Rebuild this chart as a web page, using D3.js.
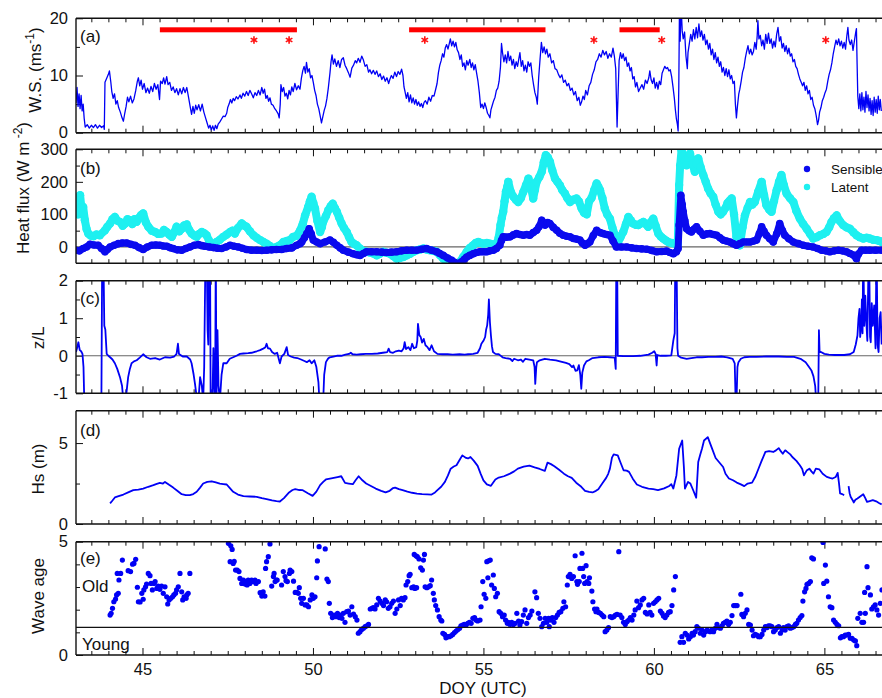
<!DOCTYPE html>
<html><head><meta charset="utf-8">
<script src="https://cdn.jsdelivr.net/npm/d3@7"></script>
<style>
body{margin:0;background:#fff}
svg{display:block}
text{font-family:"Liberation Sans",Arial,Helvetica,sans-serif}
</style></head>
<body><svg id="c" width="882" height="698"></svg>
<script>
// ---------------- DATA ----------------
const xTickLabels=[45,50,55,60,65];
const redBars=[[45.51,49.53],[52.82,56.82],[58.99,60.17]];
const redStars=[48.27,49.30,53.28,58.24,60.23,65.04];

const windSpeed=[[43.05,5.2],[43.08,7.9],[43.11,4.6],[43.14,6.8],[43.17,4.2],[43.2,6.5],[43.23,3.8],[43.26,5.0],[43.29,2.5],[43.32,1.0],[43.38,1.4],[43.44,0.8],[43.5,1.3],[43.56,0.9],[43.62,1.4],[43.68,0.8],[43.74,1.3],[43.8,0.9],[43.86,1.2],[43.88,0.6],[43.9,8.8],[43.95,9.5],[44.0,10.2],[44.03,10.8],[44.07,8.9],[44.1,7.2],[44.14,6.0],[44.18,6.8],[44.22,5.0],[44.26,5.6],[44.3,4.4],[44.35,3.6],[44.4,2.6],[44.44,2.0],[44.48,3.4],[44.52,4.6],[44.56,6.2],[44.6,5.4],[44.65,6.4],[44.7,5.2],[44.75,5.9],[44.8,7.3],[44.85,9.0],[44.88,9.6],[44.92,8.2],[44.96,9.2],[45.0,7.6],[45.05,8.6],[45.1,7.0],[45.15,7.8],[45.2,6.9],[45.25,8.1],[45.3,7.2],[45.35,8.6],[45.4,7.6],[45.45,8.4],[45.5,5.8],[45.53,9.0],[45.58,8.6],[45.62,9.6],[45.66,8.5],[45.71,9.8],[45.75,8.4],[45.8,8.8],[45.85,7.4],[45.9,8.0],[45.95,7.0],[46.0,7.7],[46.05,6.6],[46.1,7.7],[46.15,6.8],[46.2,7.9],[46.25,7.0],[46.3,7.9],[46.35,6.2],[46.4,4.5],[46.44,3.2],[46.48,4.6],[46.52,3.4],[46.56,4.8],[46.6,4.0],[46.65,4.9],[46.7,3.8],[46.75,5.0],[46.8,3.6],[46.85,2.6],[46.9,1.6],[46.94,0.8],[46.98,1.3],[47.02,0.5],[47.06,1.2],[47.1,0.4],[47.14,1.3],[47.18,0.7],[47.22,1.5],[47.27,1.9],[47.32,2.4],[47.37,2.9],[47.42,2.8],[47.47,3.4],[47.5,4.4],[47.54,5.0],[47.58,5.8],[47.62,5.2],[47.66,6.0],[47.7,5.6],[47.75,6.3],[47.8,5.9],[47.86,6.6],[47.9,6.0],[47.95,6.9],[48.0,6.4],[48.05,7.2],[48.1,6.5],[48.15,7.4],[48.2,6.8],[48.25,6.1],[48.3,7.0],[48.35,6.5],[48.4,7.4],[48.45,6.6],[48.5,7.9],[48.54,6.9],[48.58,7.6],[48.62,6.0],[48.66,6.5],[48.7,5.5],[48.74,6.1],[48.78,5.0],[48.83,4.8],[48.88,4.2],[48.93,3.8],[48.98,3.3],[49.01,2.6],[49.04,5.0],[49.06,8.4],[49.1,7.2],[49.14,7.9],[49.18,6.4],[49.22,6.9],[49.26,5.9],[49.3,7.4],[49.34,6.6],[49.38,8.0],[49.42,7.2],[49.47,8.6],[49.52,7.5],[49.57,8.2],[49.62,7.6],[49.66,9.5],[49.7,10.8],[49.74,11.6],[49.78,10.4],[49.81,12.3],[49.85,10.6],[49.89,11.2],[49.93,9.6],[49.97,10.0],[50.01,8.8],[50.05,7.4],[50.09,6.5],[50.13,5.0],[50.17,4.2],[50.21,3.0],[50.25,1.7],[50.29,2.8],[50.33,3.9],[50.37,4.7],[50.41,6.0],[50.45,7.8],[50.5,10.5],[50.53,12.4],[50.56,13.6],[50.6,12.0],[50.64,12.9],[50.69,11.6],[50.74,12.6],[50.79,11.4],[50.84,12.8],[50.89,13.1],[50.94,11.8],[50.99,11.2],[51.04,10.5],[51.09,9.7],[51.14,11.3],[51.19,11.8],[51.24,12.6],[51.28,12.2],[51.33,13.0],[51.38,12.3],[51.43,13.4],[51.48,12.7],[51.53,11.6],[51.58,11.9],[51.63,10.6],[51.67,11.0],[51.72,10.3],[51.77,10.9],[51.82,10.2],[51.87,10.8],[51.92,9.8],[51.97,10.3],[52.02,9.3],[52.07,9.9],[52.12,9.0],[52.17,9.6],[52.22,8.6],[52.26,9.4],[52.3,10.0],[52.35,9.5],[52.4,10.6],[52.45,9.8],[52.5,10.7],[52.55,10.2],[52.6,11.1],[52.64,10.0],[52.67,8.0],[52.7,7.2],[52.74,6.0],[52.78,7.0],[52.82,5.4],[52.86,6.6],[52.9,5.2],[52.94,6.1],[52.98,5.0],[53.02,5.8],[53.06,4.8],[53.1,5.4],[53.14,4.6],[53.18,5.1],[53.22,4.4],[53.26,5.3],[53.3,5.6],[53.35,5.0],[53.4,6.2],[53.45,5.5],[53.5,6.5],[53.55,6.4],[53.6,7.6],[53.64,8.6],[53.68,10.5],[53.72,11.8],[53.76,12.6],[53.8,13.8],[53.84,13.2],[53.88,14.8],[53.92,15.4],[53.96,14.6],[54.0,15.6],[54.03,16.4],[54.07,15.2],[54.11,16.0],[54.15,15.0],[54.19,15.8],[54.23,14.5],[54.27,14.0],[54.31,12.8],[54.35,13.6],[54.39,11.6],[54.43,12.2],[54.47,11.0],[54.51,12.6],[54.55,11.8],[54.6,12.8],[54.64,11.4],[54.68,12.2],[54.72,11.0],[54.76,11.9],[54.8,10.4],[54.84,9.0],[54.88,7.0],[54.92,4.4],[54.96,5.0],[55.0,4.2],[55.04,5.2],[55.08,4.4],[55.12,3.4],[55.16,3.0],[55.19,2.6],[55.22,4.0],[55.26,4.8],[55.3,5.6],[55.34,6.2],[55.38,7.4],[55.42,7.8],[55.46,9.0],[55.5,11.5],[55.53,15.6],[55.56,14.0],[55.6,12.4],[55.64,13.6],[55.68,12.2],[55.72,14.2],[55.76,12.6],[55.8,13.4],[55.84,11.8],[55.88,12.8],[55.92,11.2],[55.96,12.4],[56.0,11.6],[56.04,13.0],[56.07,14.0],[56.11,11.6],[56.15,12.6],[56.19,10.8],[56.23,11.8],[56.27,10.6],[56.31,12.4],[56.35,11.6],[56.39,12.2],[56.43,10.0],[56.47,8.4],[56.51,7.0],[56.55,6.2],[56.58,5.0],[56.62,9.6],[56.66,12.8],[56.7,15.8],[56.74,14.0],[56.78,15.0],[56.82,13.8],[56.86,14.6],[56.9,13.2],[56.95,13.8],[57.0,12.2],[57.05,12.6],[57.1,11.2],[57.15,11.0],[57.2,10.2],[57.25,9.6],[57.3,10.1],[57.35,8.8],[57.4,9.2],[57.45,8.2],[57.5,8.6],[57.55,7.4],[57.6,7.8],[57.65,6.6],[57.7,7.2],[57.75,5.6],[57.8,6.2],[57.84,4.8],[57.88,5.4],[57.92,6.4],[57.96,5.8],[58.0,7.4],[58.05,6.6],[58.1,8.2],[58.15,8.8],[58.2,10.2],[58.25,11.0],[58.3,12.4],[58.35,12.8],[58.4,13.8],[58.45,13.2],[58.5,14.4],[58.55,13.6],[58.6,14.2],[58.65,13.0],[58.7,13.8],[58.75,13.2],[58.8,14.8],[58.84,13.4],[58.88,11.2],[58.9,6.0],[58.92,1.0],[58.95,7.0],[58.98,12.6],[59.02,14.0],[59.06,13.0],[59.1,13.8],[59.14,12.6],[59.18,13.2],[59.22,11.6],[59.26,12.2],[59.3,10.8],[59.34,11.4],[59.38,9.4],[59.42,9.8],[59.46,8.0],[59.5,8.8],[59.55,7.2],[59.6,7.8],[59.65,8.4],[59.7,7.6],[59.75,9.2],[59.8,8.6],[59.85,9.6],[59.88,10.8],[59.92,9.2],[59.96,8.6],[60.0,9.6],[60.04,7.8],[60.08,8.8],[60.12,7.6],[60.16,9.0],[60.2,8.4],[60.24,10.4],[60.28,11.0],[60.32,11.6],[60.36,11.2],[60.4,11.4],[60.44,10.8],[60.48,11.0],[60.52,9.8],[60.56,8.0],[60.6,6.0],[60.63,4.0],[60.66,2.4],[60.69,1.4],[60.71,0.3],[60.73,8.0],[60.75,22],[60.77,16.0],[60.8,22],[60.83,17.8],[60.86,16.4],[60.9,17.6],[60.94,13.4],[60.98,11.2],[61.0,14.0],[61.04,15.6],[61.08,17.2],[61.12,16.0],[61.16,18.0],[61.2,16.4],[61.24,18.4],[61.28,16.6],[61.32,19.0],[61.36,16.8],[61.4,17.8],[61.44,16.2],[61.48,17.2],[61.52,15.4],[61.56,16.2],[61.6,14.6],[61.64,15.6],[61.68,13.6],[61.72,14.6],[61.76,12.8],[61.8,14.0],[61.84,12.2],[61.88,13.2],[61.92,11.6],[61.96,12.4],[62.0,10.6],[62.04,11.4],[62.08,10.0],[62.12,11.2],[62.16,9.8],[62.2,11.0],[62.24,9.4],[62.28,10.0],[62.32,8.6],[62.36,9.0],[62.39,5.0],[62.42,2.6],[62.45,4.6],[62.49,6.8],[62.52,7.6],[62.56,9.0],[62.6,10.6],[62.64,11.4],[62.68,13.0],[62.72,14.2],[62.76,15.2],[62.8,13.8],[62.84,14.6],[62.88,13.6],[62.92,14.2],[62.96,15.8],[63.0,14.6],[63.03,17.0],[63.05,19.6],[63.08,16.4],[63.12,17.0],[63.16,15.2],[63.2,16.2],[63.24,14.6],[63.28,17.2],[63.32,15.6],[63.36,17.4],[63.4,15.6],[63.44,16.4],[63.48,14.8],[63.52,16.0],[63.56,15.0],[63.6,17.2],[63.64,18.4],[63.68,16.0],[63.72,16.8],[63.76,14.8],[63.8,15.6],[63.84,14.2],[63.88,15.2],[63.92,13.8],[63.96,14.8],[64.0,13.4],[64.04,13.8],[64.08,12.4],[64.12,12.8],[64.16,11.6],[64.2,11.2],[64.24,10.2],[64.28,9.4],[64.32,8.8],[64.36,8.2],[64.4,8.8],[64.44,7.4],[64.48,8.2],[64.52,6.8],[64.56,7.4],[64.6,5.8],[64.64,6.2],[64.68,4.8],[64.72,4.2],[64.76,3.0],[64.8,1.4],[64.83,2.2],[64.86,3.6],[64.9,4.4],[64.94,5.6],[64.98,6.2],[65.02,7.0],[65.06,7.6],[65.1,9.0],[65.14,10.2],[65.18,11.0],[65.22,12.2],[65.26,13.8],[65.3,15.0],[65.34,16.2],[65.38,15.4],[65.42,16.4],[65.46,15.2],[65.5,16.0],[65.54,14.8],[65.58,15.8],[65.62,14.6],[65.66,17.0],[65.69,18.4],[65.72,16.2],[65.76,15.4],[65.8,16.2],[65.84,14.4],[65.88,16.0],[65.92,17.6],[65.94,18.2],[65.96,12.0],[65.98,6.4],[66.01,4.2],[66.04,6.8],[66.07,3.8],[66.1,7.0],[66.13,4.0],[66.16,6.2],[66.19,3.6],[66.22,7.2],[66.25,4.4],[66.28,6.6],[66.31,3.8],[66.34,6.0],[66.37,3.2],[66.4,5.6],[66.43,3.0],[66.46,6.2],[66.49,3.6],[66.52,5.8],[66.55,3.4],[66.58,6.4],[66.61,4.0],[66.64,5.8],[66.67,3.8]];

const latentFlux=[[43.04,123],[43.08,150],[43.12,100],[43.17,159],[43.21,120],[43.26,123],[43.31,82],[43.36,55],[43.41,41],[43.48,35],[43.56,33],[43.65,38],[43.75,36],[43.9,51],[43.97,62],[44.05,72],[44.12,85],[44.19,92],[44.27,80],[44.34,77],[44.42,65],[44.49,72],[44.56,85],[44.63,82],[44.7,70],[44.77,85],[44.83,77],[44.9,90],[44.96,98],[45.02,103],[45.1,75],[45.17,62],[45.27,50],[45.37,46],[45.46,40],[45.56,41],[45.63,52],[45.71,46],[45.78,38],[45.86,31],[45.93,45],[46.0,62],[46.08,48],[46.15,56],[46.22,66],[46.3,69],[46.37,52],[46.44,41],[46.52,35],[46.59,31],[46.66,40],[46.74,46],[46.81,42],[46.88,36],[46.95,20],[47.03,5],[47.1,8],[47.17,15],[47.27,22],[47.37,31],[47.47,38],[47.57,46],[47.64,50],[47.71,41],[47.8,58],[47.91,72],[47.98,66],[48.05,62],[48.15,48],[48.25,36],[48.35,28],[48.45,21],[48.55,15],[48.64,10],[48.74,3],[48.84,-5],[48.93,0],[49.03,5],[49.13,15],[49.23,18],[49.32,21],[49.42,31],[49.52,34],[49.62,50],[49.7,70],[49.77,97],[49.86,123],[49.91,140],[49.96,154],[50.01,135],[50.06,118],[50.13,80],[50.21,46],[50.26,60],[50.3,77],[50.38,95],[50.45,113],[50.52,125],[50.58,133],[50.64,120],[50.7,108],[50.77,90],[50.84,72],[50.91,58],[50.99,46],[51.06,30],[51.13,15],[51.2,10],[51.28,5],[51.38,-5],[51.48,-13],[51.57,-15],[51.67,-17],[51.77,-20],[51.87,-26],[51.97,-20],[52.06,-15],[52.16,-18],[52.26,-21],[52.35,-28],[52.45,-36],[52.55,-34],[52.65,-31],[52.75,-26],[52.85,-21],[52.95,-15],[53.04,-10],[53.14,-8],[53.24,-5],[53.33,-8],[53.43,-10],[53.53,-12],[53.63,-15],[53.72,-25],[53.82,-36],[53.92,-44],[54.02,-51],[54.1,-52],[54.17,-51],[54.24,-50],[54.31,-46],[54.41,-30],[54.51,-15],[54.6,-3],[54.7,5],[54.77,12],[54.85,15],[54.92,12],[55.0,10],[55.1,12],[55.19,10],[55.29,8],[55.39,10],[55.45,30],[55.5,67],[55.54,90],[55.58,108],[55.62,140],[55.66,170],[55.7,185],[55.73,200],[55.8,170],[55.88,154],[55.95,145],[56.02,138],[56.1,150],[56.17,169],[56.25,190],[56.32,210],[56.39,185],[56.46,149],[56.51,175],[56.56,200],[56.64,215],[56.71,231],[56.77,260],[56.83,282],[56.89,275],[56.95,262],[57.02,235],[57.1,210],[57.17,200],[57.24,190],[57.31,175],[57.39,164],[57.46,150],[57.54,138],[57.63,145],[57.73,149],[57.8,140],[57.88,118],[57.95,105],[58.03,100],[58.1,140],[58.17,150],[58.25,175],[58.32,195],[58.37,185],[58.42,174],[58.49,150],[58.56,118],[58.63,100],[58.71,87],[58.78,60],[58.86,36],[58.95,15],[59.02,30],[59.1,46],[59.18,70],[59.25,92],[59.32,82],[59.39,72],[59.47,68],[59.54,67],[59.61,72],[59.69,77],[59.76,70],[59.83,62],[59.9,75],[59.98,87],[60.05,65],[60.13,41],[60.2,32],[60.27,26],[60.35,20],[60.42,15],[60.52,12],[60.62,10],[60.7,8],[60.74,190],[60.77,250],[60.81,297],[60.86,280],[60.91,265],[60.96,251],[61.01,275],[61.06,287],[61.13,255],[61.2,231],[61.25,255],[61.3,272],[61.37,245],[61.45,220],[61.52,200],[61.59,179],[61.66,165],[61.74,154],[61.81,130],[61.89,108],[61.96,100],[62.03,108],[62.1,120],[62.16,135],[62.22,142],[62.28,149],[62.35,100],[62.42,31],[62.47,12],[62.52,5],[62.6,60],[62.67,97],[62.75,120],[62.82,138],[62.89,130],[62.96,138],[63.06,170],[63.16,200],[63.23,160],[63.3,128],[63.38,115],[63.45,108],[63.52,140],[63.6,174],[63.67,200],[63.74,221],[63.81,190],[63.89,164],[63.99,150],[64.09,138],[64.18,110],[64.28,87],[64.38,70],[64.48,56],[64.58,40],[64.67,26],[64.77,30],[64.87,36],[64.97,40],[65.06,46],[65.14,60],[65.21,77],[65.28,88],[65.36,97],[65.45,80],[65.55,67],[65.65,60],[65.75,56],[65.85,45],[65.94,36],[66.04,30],[66.14,26],[66.24,28],[66.33,26],[66.43,22],[66.53,21],[66.62,18],[66.69,15]];

const sensibleFlux=[[43.04,-10],[43.15,-12],[43.26,-5],[43.36,0],[43.46,8],[43.58,6],[43.7,5],[43.8,-5],[43.9,-15],[43.97,-8],[44.05,0],[44.17,5],[44.29,10],[44.41,12],[44.54,12],[44.66,8],[44.78,5],[44.9,-2],[45.02,-8],[45.14,0],[45.27,5],[45.39,6],[45.51,5],[45.61,3],[45.71,2],[45.8,-2],[45.9,-5],[46.02,-9],[46.15,-10],[46.27,-5],[46.39,0],[46.52,5],[46.64,7],[46.74,4],[46.83,2],[46.96,0],[47.08,-2],[47.2,-4],[47.32,-5],[47.45,0],[47.57,5],[47.69,2],[47.81,0],[47.93,-4],[48.05,-8],[48.2,-10],[48.35,-10],[48.5,-11],[48.64,-10],[48.79,-9],[48.93,-8],[49.08,-8],[49.23,-5],[49.38,-3],[49.52,5],[49.62,10],[49.67,15],[49.75,28],[49.82,41],[49.89,56],[49.95,40],[50.01,21],[50.11,15],[50.21,10],[50.35,15],[50.5,21],[50.6,14],[50.7,5],[50.8,-3],[50.89,-10],[51.04,-16],[51.18,-21],[51.28,-24],[51.38,-26],[51.48,-20],[51.57,-15],[51.72,-15],[51.87,-15],[52.02,-16],[52.16,-17],[52.3,-16],[52.45,-15],[52.6,-12],[52.75,-10],[52.9,-10],[53.04,-10],[53.19,-7],[53.33,-5],[53.48,-10],[53.63,-15],[53.72,-20],[53.82,-26],[53.95,-34],[54.07,-41],[54.15,-47],[54.22,-51],[54.29,-50],[54.36,-46],[54.44,-38],[54.51,-31],[54.6,-26],[54.7,-21],[54.8,-17],[54.9,-15],[55.0,-15],[55.09,-15],[55.19,-12],[55.29,-10],[55.38,-5],[55.48,5],[55.53,20],[55.58,31],[55.68,30],[55.78,31],[55.88,37],[55.97,41],[56.07,38],[56.17,36],[56.27,38],[56.36,36],[56.46,44],[56.56,51],[56.63,62],[56.71,82],[56.76,72],[56.81,67],[56.88,75],[56.95,72],[57.05,60],[57.15,51],[57.24,42],[57.34,36],[57.44,33],[57.54,31],[57.64,26],[57.73,24],[57.83,21],[57.9,12],[57.98,5],[58.05,10],[58.12,15],[58.22,35],[58.32,51],[58.42,44],[58.51,41],[58.61,38],[58.71,36],[58.8,18],[58.9,0],[59.05,0],[59.2,0],[59.35,-3],[59.49,-5],[59.64,-6],[59.79,-7],[59.94,-11],[60.08,-15],[60.23,-14],[60.37,-13],[60.47,-17],[60.57,-21],[60.66,-15],[60.71,-5],[60.74,67],[60.79,159],[60.83,130],[60.86,108],[60.91,80],[60.96,56],[61.03,50],[61.1,46],[61.18,55],[61.25,62],[61.35,48],[61.45,36],[61.55,40],[61.64,41],[61.74,38],[61.84,36],[61.94,28],[62.03,21],[62.13,18],[62.23,15],[62.32,10],[62.42,5],[62.52,10],[62.62,15],[62.72,15],[62.82,15],[62.92,18],[63.01,21],[63.09,40],[63.16,62],[63.23,48],[63.3,36],[63.4,25],[63.5,15],[63.6,40],[63.69,72],[63.77,50],[63.84,36],[63.96,25],[64.09,15],[64.24,10],[64.38,5],[64.53,2],[64.67,0],[64.8,-5],[64.92,-10],[65.04,-12],[65.16,-15],[65.29,-12],[65.41,-10],[65.53,-12],[65.65,-15],[65.75,-20],[65.85,-25],[65.94,-36],[66.0,-22],[66.09,-10],[66.21,-10],[66.33,-10],[66.5,-10],[66.69,-10]];

const stability=[[43.05,0.1],[43.08,0.2],[43.12,0.36],[43.16,0.15],[43.2,0.12],[43.24,0.05],[43.27,-0.3],[43.3,-1.5],[43.4,-2],[43.7,-2],[43.79,-2],[43.82,3],[43.85,3],[43.88,0.8],[43.91,0.7],[43.95,0.05],[44.0,0],[44.05,-0.04],[44.12,-0.1],[44.19,-0.2],[44.26,-0.35],[44.34,-0.57],[44.4,-0.8],[44.44,-1.2],[44.5,-1.2],[44.54,-0.9],[44.58,-0.57],[44.63,-0.35],[44.68,-0.2],[44.75,-0.15],[44.83,-0.12],[44.92,-0.05],[45.02,0.04],[45.12,-0.04],[45.22,-0.08],[45.37,-0.06],[45.51,-0.1],[45.66,-0.04],[45.81,-0.05],[45.93,-0.02],[46.0,0.05],[46.04,0.32],[46.07,0.05],[46.18,-0.02],[46.3,-0.02],[46.4,-0.1],[46.44,-0.2],[46.5,-0.5],[46.54,-0.75],[46.59,-1.1],[46.64,-1.2],[46.69,-0.57],[46.74,-0.8],[46.78,-1.2],[46.81,-0.3],[46.85,3],[46.88,3],[46.91,0.68],[46.93,0.3],[46.95,3],[46.98,3],[47.0,-1.3],[47.05,-1.3],[47.08,0.2],[47.1,-0.6],[47.13,-1.3],[47.15,3],[47.17,-1.3],[47.2,0.68],[47.23,-0.8],[47.27,-1.2],[47.32,-0.5],[47.37,-0.2],[47.47,-0.2],[47.56,-0.08],[47.66,-0.04],[47.76,0],[47.86,0.05],[47.96,0.06],[48.1,0.07],[48.2,0.08],[48.35,0.12],[48.45,0.15],[48.54,0.19],[48.6,0.22],[48.64,0.32],[48.68,0.2],[48.74,0.19],[48.8,0.1],[48.88,0.05],[48.95,0.08],[49.03,-0.2],[49.08,-0.02],[49.16,0.05],[49.23,0.23],[49.27,0.02],[49.35,-0.02],[49.45,-0.05],[49.54,-0.06],[49.65,-0.1],[49.75,-0.14],[49.82,-0.17],[49.9,-0.12],[49.96,-0.2],[50.04,-0.12],[50.1,-0.3],[50.16,-0.7],[50.19,-1.2],[50.24,-1.3],[50.3,-1.2],[50.33,-0.5],[50.38,-0.17],[50.44,-0.08],[50.49,-0.04],[50.6,-0.02],[50.7,0],[50.83,0],[50.95,0.03],[51.06,0.05],[51.11,0.08],[51.16,0.04],[51.28,0.03],[51.4,0.04],[51.55,0.05],[51.73,0.05],[51.9,0.06],[52.05,0.08],[52.18,0.1],[52.22,0.19],[52.26,0.1],[52.35,0.08],[52.43,0.12],[52.52,0.14],[52.6,0.12],[52.66,0.2],[52.69,0.36],[52.73,0.18],[52.8,0.23],[52.86,0.15],[52.91,0.32],[52.96,0.2],[53.03,0.23],[53.06,0.4],[53.08,0.85],[53.12,0.55],[53.16,0.5],[53.2,0.35],[53.25,0.45],[53.3,0.28],[53.36,0.23],[53.42,0.15],[53.48,0.28],[53.55,0.12],[53.65,0.05],[53.8,0.04],[53.95,0.04],[54.1,0.03],[54.3,0.04],[54.45,0.03],[54.55,0.04],[54.7,0.05],[54.83,0.08],[54.9,0.2],[54.94,0.32],[55.0,0.4],[55.05,0.5],[55.08,0.7],[55.11,0.81],[55.14,1.1],[55.16,1.5],[55.19,0.9],[55.22,0.54],[55.25,0.25],[55.28,0.1],[55.35,0.05],[55.45,0.04],[55.52,-0.01],[55.56,-0.04],[55.65,-0.06],[55.78,-0.08],[55.85,-0.14],[55.9,-0.08],[56.01,-0.12],[56.1,-0.1],[56.16,-0.16],[56.23,-0.08],[56.35,-0.1],[56.46,-0.12],[56.5,-0.3],[56.52,-0.75],[56.55,-0.3],[56.57,-0.17],[56.65,-0.12],[56.8,-0.08],[56.95,-0.1],[57.13,-0.12],[57.3,-0.16],[57.42,-0.19],[57.52,-0.22],[57.6,-0.3],[57.64,-0.26],[57.7,-0.4],[57.75,-0.39],[57.8,-0.25],[57.84,-0.5],[57.87,-0.88],[57.9,-0.45],[57.95,-0.26],[58.02,-0.15],[58.09,-0.12],[58.2,-0.06],[58.37,-0.04],[58.55,-0.03],[58.71,-0.04],[58.85,-0.05],[58.88,-0.35],[58.9,3],[58.92,3],[58.94,0],[59.1,-0.01],[59.39,-0.01],[59.6,0],[59.84,0.03],[59.95,0.08],[60.01,0.12],[60.05,0.05],[60.08,-0.26],[60.1,0.02],[60.2,0],[60.35,0],[60.51,0.01],[60.57,0.41],[60.61,0.6],[60.63,3],[60.66,3],[60.69,0.2],[60.71,0],[60.8,-0.05],[60.96,-0.08],[61.1,-0.06],[61.25,-0.04],[61.41,-0.04],[61.6,-0.03],[61.8,-0.03],[61.98,-0.02],[62.15,-0.04],[62.31,-0.08],[62.37,-0.2],[62.4,-1.3],[62.42,-1.3],[62.45,-0.3],[62.48,-0.17],[62.55,-0.08],[62.65,-0.04],[62.8,-0.03],[63.0,-0.03],[63.3,-0.02],[63.66,-0.02],[63.9,-0.03],[64.11,-0.03],[64.3,-0.08],[64.45,-0.17],[64.55,-0.3],[64.62,-0.39],[64.68,-0.55],[64.73,-0.8],[64.76,-1.2],[64.8,-1.3],[64.82,-1.2],[64.84,0.68],[64.86,0.1],[64.9,0.1],[65.0,0.05],[65.13,0.03],[65.3,0.02],[65.58,0.02],[65.75,0.04],[65.86,0.1],[65.92,0.3],[65.97,0.54],[66.0,1.0],[66.03,1.25],[66.05,0.5],[66.08,0.81],[66.1,1.5],[66.12,0.6],[66.14,3],[66.17,0.8],[66.2,1.6],[66.23,0.9],[66.26,0.4],[66.29,2.2],[66.31,3],[66.34,0.5],[66.36,0.36],[66.39,1.4],[66.42,0.8],[66.46,1.34],[66.5,0.2],[66.53,3],[66.56,0.3],[66.59,0.1],[66.62,1.0],[66.65,1.16],[66.68,0.3]];

const waveHeight=[[44.05,1.27],[44.12,1.45],[44.19,1.64],[44.3,1.72],[44.44,1.82],[44.58,1.95],[44.73,2.09],[44.88,2.12],[45.02,2.19],[45.17,2.3],[45.32,2.4],[45.42,2.48],[45.51,2.54],[45.6,2.5],[45.66,2.6],[45.78,2.42],[45.9,2.25],[46.02,2.05],[46.15,1.84],[46.27,1.78],[46.39,1.78],[46.49,1.85],[46.59,1.99],[46.69,2.25],[46.78,2.5],[46.9,2.6],[47.03,2.64],[47.15,2.57],[47.27,2.5],[47.37,2.47],[47.47,2.44],[47.57,2.2],[47.66,1.99],[47.8,1.82],[47.96,1.72],[48.15,1.7],[48.35,1.68],[48.5,1.6],[48.64,1.54],[48.8,1.46],[48.93,1.41],[49.03,1.39],[49.15,1.6],[49.3,1.95],[49.4,2.1],[49.48,2.15],[49.6,2.1],[49.7,2.09],[49.85,1.9],[49.99,1.74],[50.1,2.0],[50.21,2.4],[50.3,2.6],[50.38,2.75],[50.5,2.8],[50.61,2.85],[50.72,2.9],[50.83,2.95],[50.94,2.54],[51.05,2.5],[51.17,2.46],[51.25,2.7],[51.34,2.95],[51.45,2.7],[51.56,2.5],[51.7,2.35],[51.84,2.19],[52.0,2.05],[52.13,1.95],[52.25,2.05],[52.35,2.22],[52.41,2.25],[52.52,2.15],[52.63,2.09],[52.77,2.0],[52.91,1.93],[53.05,1.88],[53.2,1.84],[53.35,1.83],[53.48,1.82],[53.58,1.95],[53.65,2.09],[53.76,2.3],[53.87,2.6],[53.96,3.0],[54.04,3.42],[54.13,3.55],[54.21,3.63],[54.3,3.95],[54.38,4.24],[54.49,4.08],[54.55,4.05],[54.62,4.14],[54.72,3.9],[54.83,3.59],[54.92,3.1],[55.0,2.7],[55.1,2.45],[55.22,2.36],[55.35,2.75],[55.45,2.87],[55.6,2.95],[55.78,3.11],[55.9,3.25],[56.01,3.42],[56.18,3.55],[56.35,3.61],[56.5,3.5],[56.65,3.4],[56.8,3.28],[56.88,3.79],[56.98,3.7],[57.08,3.57],[57.22,3.35],[57.36,3.11],[57.48,2.95],[57.59,2.85],[57.72,2.55],[57.87,2.3],[57.98,2.05],[58.1,1.98],[58.2,1.95],[58.3,2.05],[58.37,2.15],[58.5,2.55],[58.6,2.85],[58.66,3.1],[58.71,3.42],[58.77,4.1],[58.82,4.3],[58.94,4.24],[59.02,3.8],[59.11,3.32],[59.2,3.3],[59.27,3.22],[59.38,2.8],[59.5,2.44],[59.65,2.3],[59.84,2.19],[59.98,2.15],[60.12,2.09],[60.3,2.2],[60.45,2.35],[60.51,2.46],[60.57,2.19],[60.66,3.0],[60.74,4.65],[60.83,5.16],[60.88,3.5],[60.91,2.19],[61.0,2.6],[61.07,2.5],[61.15,2.1],[61.24,1.62],[61.3,3.83],[61.36,4.3],[61.41,4.65],[61.47,5.16],[61.58,5.37],[61.69,4.75],[61.81,4.08],[61.92,3.8],[62.03,3.52],[62.1,3.1],[62.2,2.81],[62.32,2.7],[62.43,2.56],[62.55,2.45],[62.65,2.34],[62.75,2.5],[62.88,2.56],[62.97,2.9],[63.05,3.32],[63.15,3.85],[63.27,4.45],[63.38,4.5],[63.5,4.45],[63.58,4.55],[63.66,4.69],[63.72,4.5],[63.78,4.34],[63.85,4.55],[63.89,4.49],[64.0,4.3],[64.06,4.14],[64.18,3.9],[64.28,3.63],[64.35,3.4],[64.4,3.01],[64.48,3.3],[64.56,3.42],[64.62,3.25],[64.68,3.11],[64.75,3.42],[64.85,3.38],[64.95,3.1],[65.07,2.91],[65.16,2.85],[65.24,2.81],[65.33,2.9],[65.39,3.16],[65.43,2.5],[65.46,1.89],[65.52,1.85],[65.58,1.78],[65.64,null],[65.71,2.34],[65.74,1.9],[65.77,1.68],[65.82,1.5],[65.86,1.33],[65.91,1.5],[65.97,1.58],[66.05,1.7],[66.14,1.84],[66.2,1.6],[66.25,1.37],[66.33,1.42],[66.42,1.48],[66.52,1.4],[66.6,1.3],[66.68,1.21]];

const waveAge=[[44.05,1.76],[44.08,1.84],[44.12,2.06],[44.16,2.35],[44.21,2.47],[44.24,2.65],[44.29,2.72],[44.26,3.6],[44.31,3.31],[44.36,3.6],[44.41,4.19],[44.58,3.72],[44.65,3.68],[44.71,4.01],[44.75,4.04],[44.8,4.22],[44.85,2.99],[44.88,2.35],[44.93,2.34],[44.98,2.72],[45.02,2.46],[45.04,2.87],[45.09,3.01],[45.12,3.13],[45.17,3.6],[45.22,3.5],[45.25,3.16],[45.29,2.87],[45.34,3.16],[45.37,3.24],[45.42,2.94],[45.46,3.04],[45.51,2.9],[45.56,3.04],[45.61,2.72],[45.66,3.01],[45.71,2.57],[45.74,2.25],[45.78,2.43],[45.83,2.5],[45.88,2.57],[45.92,2.65],[45.97,2.72],[46.0,2.87],[46.05,3.01],[46.1,3.6],[46.15,2.79],[46.18,2.43],[46.22,2.57],[46.28,2.5],[46.3,2.65],[46.34,2.72],[46.39,3.6],[47.52,4.93],[47.59,4.82],[47.63,4.66],[47.57,4.12],[47.66,4.04],[47.69,4.13],[47.73,3.75],[47.78,3.75],[47.83,3.68],[47.86,3.38],[47.91,3.16],[47.96,3.31],[48.01,3.13],[48.04,3.24],[48.07,3.09],[48.1,3.31],[48.15,3.16],[48.2,3.31],[48.25,3.24],[48.3,3.31],[48.33,3.16],[48.4,3.24],[48.45,2.75],[48.5,2.6],[48.54,2.79],[48.59,2.6],[48.61,3.82],[48.64,4.12],[48.69,4.34],[48.74,4.9],[48.79,3.04],[48.84,3.46],[48.86,3.6],[48.89,3.24],[48.93,3.31],[48.95,3.31],[49.08,3.09],[49.13,3.68],[49.18,3.46],[49.21,3.28],[49.25,3.24],[49.31,3.6],
[49.33,3.75],[49.38,3.68],[49.43,3.26],[49.48,2.76],[49.53,2.76],[49.57,2.72],[49.6,2.97],[49.64,2.5],[49.67,2.28],[49.72,2.5],[49.77,2.21],[49.82,2.21],[49.87,2.13],[49.92,2.43],[49.97,2.65],[50.01,2.5],[50.06,2.57],[50.11,3.41],[50.13,4.15],[50.18,4.78],[50.36,4.68],[50.41,3.35],[50.45,3.24],[50.48,2.28],[50.52,1.84],[50.57,1.65],[50.62,1.76],[50.67,1.69],[50.72,1.84],[50.77,1.65],[50.8,1.76],[50.85,1.62],[50.89,1.84],[50.94,1.44],[50.99,1.91],[51.04,1.94],[51.09,1.76],[51.14,2.13],[51.19,1.81],[51.24,1.69],[51.29,1.54],[51.33,0.96],[51.38,1.03],[51.43,1.13],[51.48,1.18],[51.53,1.25],[51.58,1.29],[51.63,1.35],[51.68,2.03],[51.73,2.06],[51.77,2.09],[51.82,2.03],[51.87,2.21],[51.92,2.5],[51.97,2.38],[52.02,2.28],[52.07,2.18],[52.12,2.43],[52.16,2.35],[52.21,2.06],[52.26,2.13],[52.31,2.28],[52.36,2.38],[52.41,1.84],[52.46,2.03],[52.51,2.43],[52.56,2.18],[52.6,2.5],[52.65,2.43],[52.7,2.53],[52.73,3.09],[52.78,3.24],[52.82,3.5],[52.85,3.56],[52.9,2.97],[52.95,3.01],[52.99,2.94],[53.04,2.97],[52.97,4.44],[53.02,4.38],[53.06,4.34],[53.11,4.24],[53.16,3.85],[53.21,3.75],[53.24,4.19],[53.27,4.44],[53.29,3.01],[53.34,2.97],[53.39,3.01],[53.44,3.06],[53.48,3.31],[53.53,2.72],[53.56,2.43],[53.6,2.18],[53.65,1.99],[53.7,1.69],[53.75,1.54],[53.78,1.5],[53.81,0.96],[53.86,0.91],[53.9,0.76],[53.95,0.81],[54.0,0.81],[54.05,0.85],[54.1,0.91],[54.15,0.99],[54.2,1.06],[54.25,1.13],[54.3,1.18],[54.34,1.29],[54.39,1.32],[54.44,1.35],[54.49,1.32],[54.54,1.4],[54.59,1.44],[54.64,1.4],[54.69,1.62],[54.74,1.65],[54.78,1.54],[54.83,1.5],[54.9,1.54],[54.93,2.13],[54.98,3.24],[55.02,2.68],[55.07,2.5],[55.1,4.12],[55.15,4.16],[55.2,4.19],[55.13,3.41],[55.24,3.09],[55.29,3.53],[55.32,2.94],[55.36,2.57],[55.41,2.72],[55.46,1.91],[55.51,1.84],[55.56,1.69],[55.61,1.76],[55.65,1.54],[55.7,1.4],[55.73,1.44],[55.78,1.35],[55.83,1.44],[55.88,1.35],[55.93,1.4],[55.98,1.84],[56.03,1.5],[56.07,1.32],[56.12,1.47],[56.17,1.76],[56.22,1.99],[56.27,1.4],[56.32,1.65],[56.37,1.76],[56.42,1.94],[56.51,2.79],[56.56,2.53],[56.61,1.84],[56.66,1.62],[56.71,1.25],[56.76,1.4],[56.81,1.62],[56.86,1.44],[56.91,1.62],[56.93,1.25],[56.97,1.54],[57.02,1.65],[57.07,1.44],[57.12,1.65],[57.17,1.76],[57.22,1.88],[57.27,1.91],[57.33,2.06],[57.36,2.35],[57.41,2.13],[57.46,3.09],[57.49,3.46],[57.54,3.56],[57.59,3.38],[57.64,3.46],[57.69,4.38],[57.74,3.24],[57.76,3.12],[57.81,3.24],[57.83,3.82],
[57.89,4.49],[57.91,3.82],[57.94,3.46],[58.01,3.94],[57.97,3.16],[58.04,3.24],[58.11,3.41],[58.09,3.16],[58.18,2.82],[58.21,2.35],[58.26,2.03],[58.3,1.91],[58.33,2.03],[58.38,1.88],[58.43,1.84],[58.48,1.76],[58.53,1.69],[58.57,1.03],[58.62,1.1],[58.67,1.21],[58.72,1.69],[58.77,1.65],[58.82,1.69],[58.87,1.76],[58.92,1.79],[58.97,4.56],[59.01,1.76],[59.06,1.65],[59.11,1.44],[59.16,1.35],[59.21,1.47],[59.26,1.54],[59.31,1.65],[59.36,1.54],[59.41,1.76],[59.45,1.99],[59.5,2.38],[59.55,2.09],[59.6,2.21],[59.65,2.43],[59.7,2.5],[59.75,1.88],[59.8,1.81],[59.85,2.21],[59.89,1.88],[59.94,1.76],[59.99,2.28],[60.04,2.35],[60.09,2.43],[60.14,2.5],[60.19,1.94],[60.24,1.84],[60.28,1.72],[60.33,1.65],[60.38,1.76],[60.43,1.88],[60.48,1.91],[60.53,2.18],[60.58,2.87],[60.63,3.46],[60.77,0.56],[60.82,0.81],[60.87,0.56],[60.92,0.96],[60.97,0.88],[61.02,0.71],[61.07,0.81],[61.12,0.96],[61.16,0.88],[61.21,1.03],[61.26,1.25],[61.31,1.18],[61.36,0.96],[61.41,1.1],[61.46,0.88],[61.51,1.03],[61.56,1.1],[61.6,1.06],[61.65,1.03],[61.7,1.1],[61.75,1.03],[61.8,1.18],[61.85,1.35],[61.9,1.21],[61.95,1.18],[62.0,1.29],[62.04,1.4],[62.09,1.44],[62.14,1.5],[62.19,1.35],[62.24,1.44],[62.29,1.74],[62.34,2.18],[62.39,2.18],[62.44,2.18],[62.55,2.68],[62.58,1.79],[62.63,1.69],[62.68,1.84],[62.73,1.99],[62.78,1.35],[62.83,1.32],[62.88,1.1],[62.92,0.85],[62.97,0.91],[63.02,0.88],[63.07,0.81],[63.12,0.81],[63.17,0.91],[63.22,1.1],[63.27,1.25],[63.32,1.21],[63.36,1.29],[63.41,1.29],[63.46,1.25],[63.51,1.03],[63.56,1.1],[63.61,1.21],[63.66,1.25],[63.71,0.96],[63.76,1.1],[63.8,1.21],[63.85,1.1],[63.9,1.25],[63.95,1.29],[64.0,1.18],[64.05,1.21],[64.1,1.25],[64.15,1.35],[64.19,1.4],[64.24,1.54],[64.29,1.65],[64.34,1.74],[64.37,2.38],[64.42,2.79],[64.46,2.94],[64.49,3.12],[64.54,3.16],[64.59,3.24],[64.63,4.29],[64.68,4.24],[64.96,4.97],[65.03,3.97],[64.98,3.16],[65.07,3.26],[65.12,2.57],[65.17,2.13],[65.22,2.09],[65.27,1.54],[65.32,1.44],[65.37,1.35],[65.42,1.29],[65.47,0.76],[65.51,0.81],[65.56,0.81],[65.61,0.88],[65.66,0.88],[65.71,0.91],[65.76,0.74],[65.81,0.74],[65.86,0.66],[65.91,0.62],[65.95,0.41],[65.98,1.62],[66.05,1.84],[66.1,1.44],[66.15,1.44],[66.2,1.84],[66.25,3.9],[66.18,2.76],[66.28,2.97],[66.35,2.65],[66.39,2.03],[66.44,2.13],[66.49,2.21],[66.54,1.99],[66.59,1.76],[66.64,2.28],[66.69,2.87]];

const youngOldThreshold=[1.22];

// ---------------- LAYOUT ----------------
const svg=d3.select('#c');
const X0=76,X1=882;
const x=d3.scaleLinear().domain([43.05,66.69]).range([X0,X1]);
const panels={
  a:{t:18.3,b:132.7,d:[0,20],maj:[0,10,20],min:[5,15],lab:'(a)',lb:42},
  b:{t:149.3,b:263.2,d:[-50,300],maj:[0,100,200,300],min:[50,150,250],lab:'(b)',lb:174},
  c:{t:280.7,b:393.3,d:[-1,2],maj:[-1,0,1,2],min:[-0.5,0.5,1.5],lab:'(c)',lb:304},
  d:{t:410.7,b:524,d:[0,7],maj:[0,5],min:[2.5],lab:'(d)',lb:436},
  e:{t:541.7,b:655,d:[0,5],maj:[0,5],min:[1,2,3,4],lab:'(e)',lb:564}
};
const FONT='"Liberation Sans",Arial,Helvetica,sans-serif';
const xMinor=d3.range(43.5,66.7,0.5).filter(v=>Math.abs(v/5-Math.round(v/5))>1e-6);
const defs=svg.append('defs');

Object.entries(panels).forEach(([k,p])=>{
  p.y=d3.scaleLinear().domain(p.d).range([p.b,p.t]);
  defs.append('clipPath').attr('id','clip'+k).append('rect')
    .attr('x',X0).attr('y',p.t).attr('width',X1-X0).attr('height',p.b-p.t);
  p.g=svg.append('g');
  p.data=svg.append('g').attr('clip-path',`url(#clip${k})`);
});

function styleAxis(g){
  g.select('.domain').remove();
  g.attr('font-family',FONT).attr('font-size',16.5).attr('color','#111');
  g.selectAll('line').attr('stroke-width',1);
}

// ---------------- PANEL CONTENT ----------------
const blue='#0000f5';
// (a) wind speed
{
  const p=panels.a;
  p.data.append('path').datum(windSpeed)
    .attr('d',d3.line().x(d=>x(d[0])).y(d=>p.y(d[1])))
    .attr('fill','none').attr('stroke',blue).attr('stroke-width',1.3).attr('stroke-linejoin','round');
  svg.selectAll('.rbar').data(redBars).join('rect')
    .attr('x',d=>x(d[0])).attr('width',d=>x(d[1])-x(d[0]))
    .attr('y',27.3).attr('height',5).attr('fill','#ff0000');
  const sym=d3.symbolAsterisk||d3.symbolCross;
  svg.selectAll('.star').data(redStars).join('path')
    .attr('transform',d=>`translate(${x(d)},40)`)
    .attr('d',d3.symbol(sym,40))
    .attr('fill','none').attr('stroke','#ff1010').attr('stroke-width',1.6);
}
// (b) heat flux
{
  const p=panels.b;
  p.data.append('line').attr('x1',X0).attr('x2',X1).attr('y1',p.y(0)).attr('y2',p.y(0))
    .attr('stroke','#666').attr('stroke-width',1.2);
  const ln=d3.line().x(d=>x(d[0])).y(d=>p.y(d[1]));
  p.data.append('path').datum(latentFlux).attr('d',ln)
    .attr('fill','none').attr('stroke','#1ef0f0').attr('stroke-width',8)
    .attr('stroke-linejoin','round').attr('stroke-linecap','round');
  p.data.selectAll('.lat').data(latentFlux).join('circle')
    .attr('cx',d=>x(d[0])).attr('cy',d=>p.y(d[1])).attr('r',4.2).attr('fill','#1ef0f0');
  p.data.append('path').datum(sensibleFlux).attr('d',ln)
    .attr('fill','none').attr('stroke','#0a0aee').attr('stroke-width',7)
    .attr('stroke-linejoin','round').attr('stroke-linecap','round');
  p.data.selectAll('.sen').data(sensibleFlux).join('circle')
    .attr('cx',d=>x(d[0])).attr('cy',d=>p.y(d[1])).attr('r',3.8).attr('fill','#0a0aee');
  // legend
  const lg=[{t:'Sensible',c:'#0a0aee',y:169},{t:'Latent',c:'#1ef0f0',y:187}];
  lg.forEach(l=>{
    svg.append('circle').attr('cx',807).attr('cy',l.y).attr('r',3.2).attr('fill',l.c);
    svg.append('text').attr('x',831).attr('y',l.y+4.5).attr('font-size',13.5)
      .attr('font-family',FONT).attr('fill','#111').text(l.t);
  });
}
// (c) z/L
{
  const p=panels.c;
  p.data.append('line').attr('x1',X0).attr('x2',X1).attr('y1',p.y(0)).attr('y2',p.y(0))
    .attr('stroke','#666').attr('stroke-width',1.2);
  p.data.append('path').datum(stability)
    .attr('d',d3.line().x(d=>x(d[0])).y(d=>p.y(d[1])))
    .attr('fill','none').attr('stroke',blue).attr('stroke-width',1.8).attr('stroke-linejoin','round');
}
// (d) Hs
{
  const p=panels.d;
  p.data.append('path').datum(waveHeight)
    .attr('d',d3.line().defined(d=>d[1]!=null).x(d=>x(d[0])).y(d=>p.y(d[1])))
    .attr('fill','none').attr('stroke',blue).attr('stroke-width',1.8).attr('stroke-linejoin','round');
}
// (e) wave age
{
  const p=panels.e;
  svg.selectAll('.thr').data(youngOldThreshold).join('line')
    .attr('x1',X0).attr('x2',X1).attr('y1',d=>p.y(d)).attr('y2',d=>p.y(d))
    .attr('stroke','#111').attr('stroke-width',1.1);
  p.data.selectAll('.wa').data(waveAge).join('circle')
    .attr('cx',d=>x(d[0])).attr('cy',d=>p.y(d[1])).attr('r',2.6).attr('fill',blue);
  svg.append('text').attr('x',82).attr('y',592).attr('font-size',17).attr('font-family',FONT).attr('fill','#111').text('Old');
  svg.append('text').attr('x',82).attr('y',650).attr('font-size',17).attr('font-family',FONT).attr('fill','#111').text('Young');
}

// ---------------- FRAMES & AXES ----------------
Object.entries(panels).forEach(([k,p])=>{
  const g=p.g;
  g.append('g').attr('transform',`translate(0,${p.b})`)
    .call(d3.axisBottom(x).tickValues(xMinor).tickSize(-4).tickFormat('')).call(styleAxis);
  g.append('g').attr('transform',`translate(0,${p.b})`)
    .call(d3.axisBottom(x).tickValues(xTickLabels).tickSize(-7).tickPadding(8)
      .tickFormat(k==='e'?(d=>String(d)):'')).call(styleAxis);
  g.append('g').attr('transform',`translate(0,${p.t})`)
    .call(d3.axisTop(x).tickValues(xMinor).tickSize(-4).tickFormat('')).call(styleAxis);
  g.append('g').attr('transform',`translate(0,${p.t})`)
    .call(d3.axisTop(x).tickValues(xTickLabels).tickSize(-7).tickFormat('')).call(styleAxis);
  g.append('g').attr('transform',`translate(${X0},0)`)
    .call(d3.axisLeft(p.y).tickValues(p.min).tickSize(-4).tickFormat('')).call(styleAxis);
  g.append('g').attr('transform',`translate(${X0},0)`)
    .call(d3.axisLeft(p.y).tickValues(p.maj).tickSize(-7).tickPadding(8).tickFormat(d=>String(d))).call(styleAxis);
  const fr=svg.append('g').attr('stroke','#111').attr('stroke-width',1.4);
  fr.append('line').attr('x1',X0).attr('x2',X1).attr('y1',p.t).attr('y2',p.t);
  fr.append('line').attr('x1',X0).attr('x2',X1).attr('y1',p.b).attr('y2',p.b);
  fr.append('line').attr('x1',X0).attr('x2',X0).attr('y1',p.t).attr('y2',p.b);
  svg.append('text').attr('x',80).attr('y',p.lb).attr('font-size',17)
    .attr('font-family',FONT).attr('fill','#111').text(p.lab);
});

// ---------------- AXIS TITLES ----------------
function vtitle(xp,yp,parts){
  const t=svg.append('text').attr('transform',`translate(${xp},${yp}) rotate(-90)`)
    .attr('text-anchor','middle').attr('font-size',17).attr('font-family',FONT).attr('fill','#111');
  parts.forEach(pt=>{
    const s=t.append('tspan').text(pt.t);
    if(pt.sup){s.attr('dy',-7).attr('font-size',12);}
    if(pt.down){s.attr('dy',7);}
  });
}
vtitle(41,70,[{t:'W.S. (ms'},{t:'-1',sup:true},{t:')',down:true}]);
vtitle(29,188,[{t:'Heat  flux (W m'},{t:' -2',sup:true},{t:')',down:true}]);
vtitle(44,338,[{t:'z/L'}]);
vtitle(44,469,[{t:'Hs (m)'}]);
vtitle(44,596,[{t:'Wave age'}]);
svg.append('text').attr('x',483).attr('y',694).attr('text-anchor','middle')
  .attr('font-size',17).attr('font-family',FONT).attr('fill','#111').text('DOY (UTC)');
</script></body></html>
